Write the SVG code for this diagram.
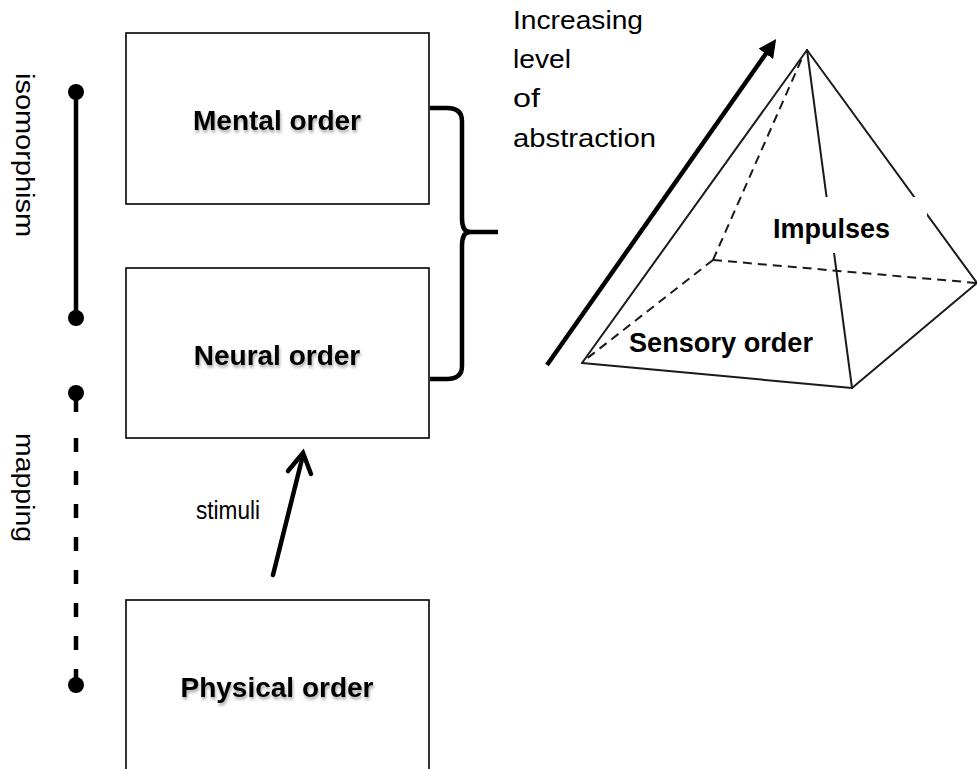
<svg xmlns="http://www.w3.org/2000/svg" width="977" height="769" viewBox="0 0 977 769">
  <defs>
    <filter id="tshadow" x="-10%" y="-30%" width="120%" height="180%">
      <feDropShadow dx="1" dy="2.5" stdDeviation="1.6" flood-color="#000" flood-opacity="0.35"/>
    </filter>
    <marker id="tri" viewBox="0 0 10 10" refX="6" refY="5" markerWidth="4" markerHeight="4" orient="auto" markerUnits="strokeWidth">
      <path d="M0,0 L10,5 L0,10 Z" fill="#000"/>
    </marker>
  </defs>
  <style>
    .box { fill: #fff; stroke: #000; stroke-width: 1.6; }
    .label { font-family: "Liberation Sans", Arial, sans-serif; font-weight: bold; font-size: 28px; fill: #000; text-anchor: middle; }
    .plain { font-family: "Liberation Sans", Arial, sans-serif; font-size: 26px; fill: #000; }
    .pyr { stroke: #1a1a1a; stroke-width: 2; fill: none; stroke-linecap: round; }
    .pyrdash { stroke: #1a1a1a; stroke-width: 2; fill: none; stroke-dasharray: 9 6; }
    .thick { stroke: #000; stroke-width: 4.5; fill: none; }
    .plab { font-family: "Liberation Sans", Arial, sans-serif; font-weight: bold; font-size: 27px; fill: #000; }
  </style>
  <rect width="977" height="769" fill="#fff"/>

  <g id="mental-order">
    <rect class="box" x="126" y="33" width="303" height="171"/>
    <text class="label" x="277" y="130" filter="url(#tshadow)">Mental order</text>
  </g>
  <g id="neural-order">
    <rect class="box" x="126" y="268" width="303" height="170"/>
    <text class="label" x="277" y="365" filter="url(#tshadow)">Neural order</text>
  </g>
  <g id="physical-order">
    <rect class="box" x="126" y="600" width="303" height="180"/>
    <text class="label" x="277" y="697" filter="url(#tshadow)">Physical order</text>
  </g>

  <g id="pyramid">
    <line class="pyrdash" x1="713" y1="260" x2="803" y2="56"/>
    <line class="pyrdash" x1="713" y1="260" x2="585" y2="360"/>
    <line class="pyrdash" x1="713" y1="260" x2="977" y2="283"/>
    <line class="pyr" x1="807" y1="50" x2="582" y2="363"/>
    <line class="pyr" x1="807" y1="50" x2="852" y2="388"/>
    <line class="pyr" x1="807" y1="50" x2="977" y2="283"/>
    <line class="pyr" x1="582" y1="363" x2="852" y2="388"/>
    <line class="pyr" x1="852" y1="388" x2="977" y2="283"/>
    <rect x="773" y="197" width="154" height="56" fill="#fff"/>
    <text class="plab" x="773" y="238" textLength="117" lengthAdjust="spacingAndGlyphs">Impulses</text>
    <text class="plab" x="629" y="352" textLength="184" lengthAdjust="spacingAndGlyphs">Sensory order</text>
  </g>

  <g id="abstraction-label">
    <text class="plain" font-size="27" x="513" y="29" textLength="130" lengthAdjust="spacingAndGlyphs">Increasing</text>
    <text class="plain" font-size="27" x="513" y="68" textLength="58" lengthAdjust="spacingAndGlyphs">level</text>
    <text class="plain" font-size="27" x="513" y="107" textLength="27" lengthAdjust="spacingAndGlyphs">of</text>
    <text class="plain" font-size="27" x="513" y="147" textLength="143" lengthAdjust="spacingAndGlyphs">abstraction</text>
  </g>

  <g id="isomorphism">
    <text class="plain" transform="translate(16,73) rotate(90)" x="0" y="0" textLength="164" lengthAdjust="spacingAndGlyphs">isomorphism</text>
  </g>
  <g id="mapping">
    <text class="plain" transform="translate(16,433) rotate(90)" x="0" y="0" textLength="109" lengthAdjust="spacingAndGlyphs">mapping</text>
  </g>
  <g id="stimuli-label">
    <text class="plain" font-size="24" x="196" y="519" textLength="64" lengthAdjust="spacingAndGlyphs">stimuli</text>
  </g>

  <g id="connectors">
    <line class="thick" x1="76" y1="92" x2="76" y2="318"/>
    <circle cx="76" cy="92" r="8" fill="#000"/>
    <circle cx="76" cy="318" r="8" fill="#000"/>
    <path class="thick" stroke-width="5" d="M76,393 V685" stroke-dasharray="19 26 14 19 14 19 14 19 14 19 14 19 14 19 14 19 14 19 14"/>
    <circle cx="76" cy="393" r="8" fill="#000"/>
    <circle cx="76" cy="685" r="8" fill="#000"/>
    <path class="thick" stroke-width="4" d="M430,108 H447 Q462,108 462,121 V218 Q462,232 470,232 Q462,232 462,246 V366 Q462,379 447,379 H430"/>
    <line class="thick" stroke-width="4" x1="466" y1="232" x2="498" y2="232"/>
    <line class="thick" stroke-width="4" x1="273" y1="575" x2="303" y2="455" stroke-linecap="round"/>
    <path class="thick" stroke-width="4" d="M288,471 L303,453 L311,474" stroke-linejoin="miter" stroke-linecap="round"/>
    <line class="thick" stroke-width="4" x1="547" y1="365" x2="772" y2="45" marker-end="url(#tri)"/>
  </g>
</svg>
